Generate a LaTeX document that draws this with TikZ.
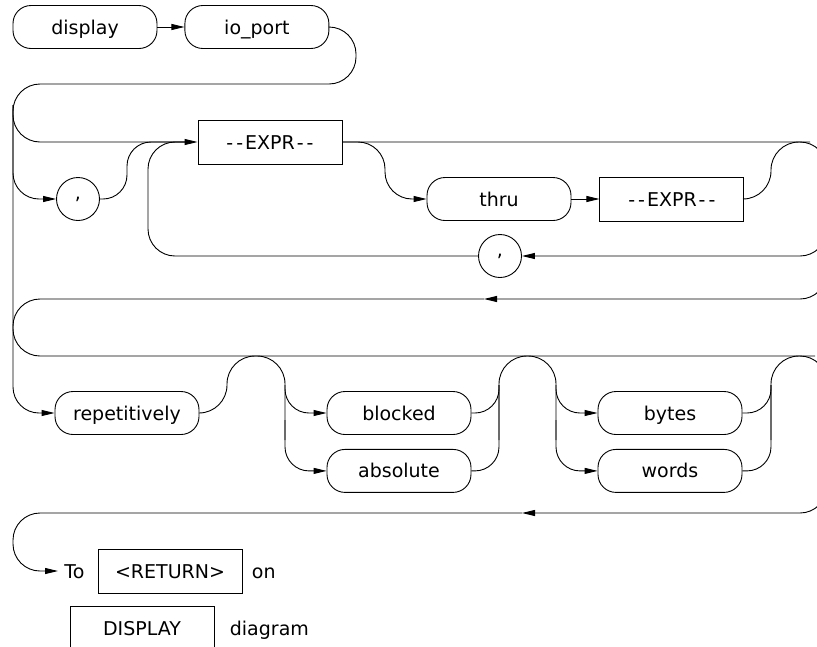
\documentclass[tikz,border=0pt]{standalone}
\usepackage{fontspec}
\setmainfont{DejaVu Sans}
\usetikzlibrary{positioning,arrows.meta}
\newcommand{\syntaxfont}{\fontsize{19}{22}\selectfont}
\newcommand{\dashpair}{\mbox{-}\kern3pt\mbox{-}}
\tikzset{keyword/.style={draw,rounded corners=18pt,minimum width=144pt,minimum height=43pt,inner sep=0pt,text height=16pt,text depth=2pt,font=\syntaxfont},
param/.style={draw,minimum width=144pt,minimum height=44pt,inner sep=0pt,text height=16pt,text depth=2pt,font=\syntaxfont},
delim/.style={draw,circle,minimum size=43pt,inner sep=0pt,font=\syntaxfont},
txt/.style={inner sep=0pt,text height=16pt,text depth=2pt,font=\syntaxfont},
link/.style={-{Triangle[length=13pt,width=6pt]}}}

\begin{document}
\begin{tikzpicture}[x=1pt,y=-1pt,line width=.9pt]
\useasboundingbox (0,0) rectangle (817,646);
\clip (0,0) rectangle (817,646);
\node[keyword] (display) at (85,27) {display};
\node[keyword,right=27pt of display] (ioport) {io\_port};
\node[param] (expra) at (270,142) {\dashpair\kern2pt EXPR\kern2pt\dashpair};
\node[delim] (commaa) at (78,199) {,};
\node[keyword] (thru) at (499,199) {thru};
\node[param,right=28pt of thru] (exprb) {\dashpair\kern2pt EXPR\kern2pt\dashpair};
\node[delim] (commab) at (500,256) {,};
\node[keyword] (repet) at (127,413) {repetitively};
\node[keyword] (blocked) at (399,413) {blocked};
\node[keyword,below=14pt of blocked] (absolute) {absolute};
\node[keyword] (bytes) at (670,413) {bytes};
\node[keyword,below=14pt of bytes] (words) {words};
\node[txt,inner xsep=6pt,anchor=west] (tolbl) at (58,571) {To};
\node[param] (ret) at (170,571) {<RETURN>};
\node[txt,right=9pt of ret] (onlbl) {on};
\node[param] (disp) at (142,628) {DISPLAY};
\node[txt,right=15pt of disp] (diag) {diagram};
% first row and wrap
\draw[link] (display) -- (ioport);
\draw[link,rounded corners=27pt] (ioport.east) -| (356,84) -- (13,84) |- (expra.west);
\draw[link,rounded corners=26pt] (13,105) |- (commaa.west);
\draw[rounded corners=24pt] (commaa.east) -| (127,142) -- (185,142);
\draw[link,rounded corners=26pt] (13,105) |- (repet.west);
% expr group
\draw[rounded corners=27pt] (commab.west) -| (148,142) -- (185,142);
\draw[link,rounded corners=27pt] (expra.east) -| (385,199) -- (thru.west);
\draw[link] (thru) -- (exprb);
\draw[rounded corners=28pt] (exprb.east) -| (771,142) -- (810,142);
\draw[link,rounded corners=27pt] (expra.east) -| (827,256) -- (commab.east);
\draw[link,rounded corners=27pt] (827,230) |- (484,299);
\draw[rounded corners=27pt] (484,299) -| (13,356) -| (827,420);
% options
\draw[rounded corners=28pt] (repet.east) -| (227,356) -| (285,440);
\draw[link,rounded corners=24pt] (285,385) |- (blocked.west);
\draw[link,rounded corners=24pt] (285,420) |- (absolute.west);
\draw[rounded corners=24pt] (blocked.east) -| (499,385);
\draw[rounded corners=24pt] (absolute.east) -| (499,385);
\draw[rounded corners=28pt] (499,440) |- (556,356) -- (556,440);
\draw[link,rounded corners=24pt] (556,385) |- (bytes.west);
\draw[link,rounded corners=24pt] (556,420) |- (words.west);
\draw[rounded corners=24pt] (bytes.east) -| (771,385);
\draw[rounded corners=24pt] (words.east) -| (771,385);
\draw[rounded corners=28pt] (771,440) |- (815,356);
% return
\draw[link,rounded corners=27pt] (827,420) |- (522,513);
\draw[link,rounded corners=27pt] (522,513) -- (13,513) |- (tolbl.west);
\end{tikzpicture}
\end{document}
